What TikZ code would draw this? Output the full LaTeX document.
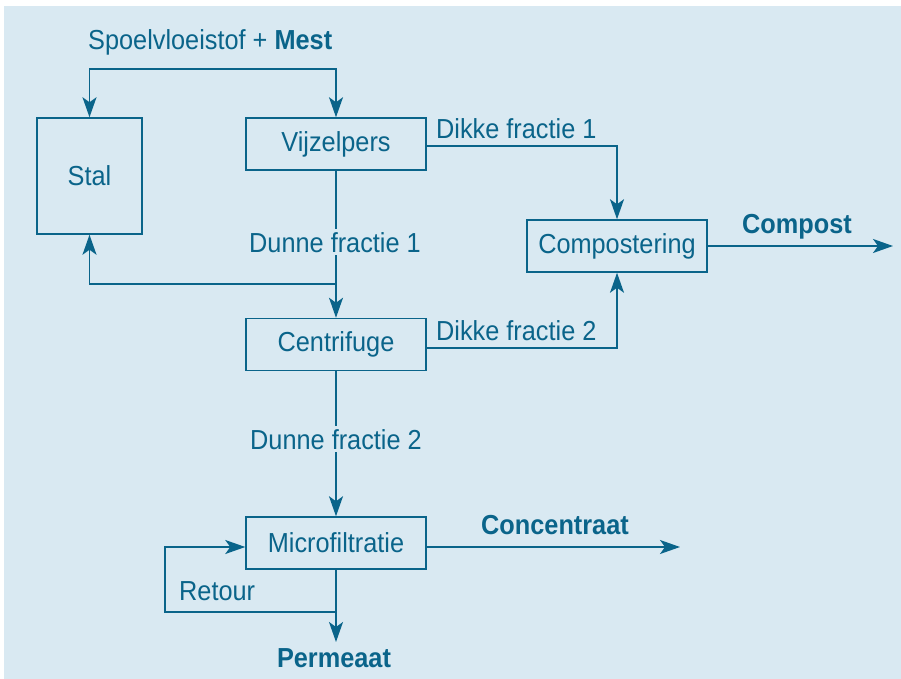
\documentclass[tikz,border=0pt]{standalone}
\usepackage{fontspec}
\setmainfont{Liberation Sans}[FakeStretch=0.92]
\usetikzlibrary{arrows.meta, positioning}
\definecolor{mblue}{RGB}{10, 100, 138}
\definecolor{mbg}{RGB}{217, 233, 242}

\begin{document}
\begin{tikzpicture}[x=1pt, y=-1pt,
    every node/.style={text=mblue, font=\fontsize{27.5}{32}\selectfont},
    unit/.style={draw=mblue, line width=1.5pt, minimum width=180pt, minimum height=52pt, inner sep=0pt},
    tip/.tip={Stealth[length=20pt, width=14pt, inset=5pt]},
    flow/.style={draw=mblue, line width=1.6pt, -tip},
    gap/.style={fill=mbg, inner sep=3pt}]
    \useasboundingbox (0,0) rectangle (901,679);
    \fill[white] (0,0) rectangle (901,679);
    \fill[mbg] (4,6) rectangle (901,679);
    % units
    \node[unit, minimum width=105pt, minimum height=116pt] (stal) at (89.5,176) {Stal};
    \node[unit] (vijz) at (336,144) {Vijzelpers};
    \node[unit] (comp) at (617,246) {Compostering};
    \node[unit] (centr) at (336,344.5) {Centrifuge};
    \node[unit] (micro) at (336,543) {Microfiltratie};
    % free ends
    \coordinate (feed) at (213,69);
    \coordinate (split1) at (336,284);
    \coordinate (split2) at (336,612);
    \coordinate (compend) at (893,246);
    \coordinate (concend) at (680,547);
    \coordinate (permend) at (336,642);
    % flows
    \draw[flow, tip-tip] (stal.north) |- (feed) -| (vijz.north);
    \draw[flow] ([yshift=-2pt]vijz.east) -| (comp.north);
    \draw[flow] (vijz.south) -- (centr.north);
    \draw[flow] (split1) -| (stal.south);
    \draw[flow] ([yshift=-3.5pt]centr.east) -| (comp.south);
    \draw[flow] (comp.east) -- (compend);
    \draw[flow] (centr.south) -- (micro.north);
    \draw[flow] ([yshift=-4pt]micro.east) -- (concend);
    \draw[flow] (micro.south) -- (permend);
    \draw[flow] (split2) -| ([xshift=-80pt, yshift=-4pt]micro.west) -- ([yshift=-4pt]micro.west);
    % labels
    \node[anchor=base west, inner sep=0pt] (spoel) at (88,50) {Spoelvloeistof + \textbf{Mest}};
    \node[anchor=base west, inner sep=0pt] (dik1) at (436,139) {Dikke fractie 1};
    \node[anchor=base west, inner sep=0pt] (dik2) at (436,340) {Dikke fractie 2};
    \node[gap, anchor=base] (dun1) at (335,252) {Dunne fractie 1};
    \node[gap, anchor=base] (dun2) at (336,449) {Dunne fractie 2};
    \node[anchor=base west, inner sep=0pt] (compost) at (742,233) {\textbf{Compost}};
    \node[anchor=base, inner sep=0pt] (conc) at (555,534) {\textbf{Concentraat}};
    \node[anchor=base west, inner sep=0pt] (retour) at (179,600) {Retour};
    \node[anchor=base, inner sep=0pt] (perm) at (334,667) {\textbf{Permeaat}};
  \end{tikzpicture}
\end{document}
